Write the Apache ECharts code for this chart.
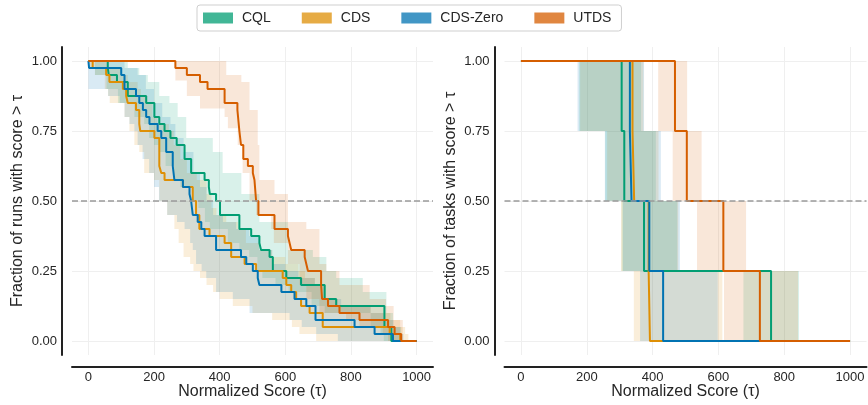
<!DOCTYPE html>
<html><head><meta charset="utf-8">
<script src="https://cdn.jsdelivr.net/npm/echarts@6/dist/echarts.min.js"></script>
<style>html,body{margin:0;padding:0;background:#fff}#c{width:868px;height:405px}</style>
</head><body><div id="c"></div>
<script>
// ---------- categories / ticks ----------
const methods = ['CQL', 'CDS', 'CDS-Zero', 'UTDS'];
const xTicks = [0, 200, 400, 600, 800, 1000];
const yTicks = [0, 0.25, 0.5, 0.75, 1];
const xTitle = 'Normalized Score (τ)';
const yTitleRuns = 'Fraction of runs with score > τ';
const yTitleTasks = 'Fraction of tasks with score > τ';

// ---------- left panel: runs (step points [score, fraction]) ----------
const runsCQL = [[0,1],[59,0.975],[62,0.95],[87,0.925],[120,0.875],[176,0.85],[201,0.8],[216,0.775],[232,0.75],[250,0.725],[269,0.7],[293,0.65],[313,0.6],[354,0.575],[367,0.55],[370,0.525],[389,0.5],[401,0.45],[460,0.4],[496,0.375],[521,0.35],[526,0.325],[552,0.3],[562,0.25],[603,0.225],[648,0.2],[720,0.15],[755,0.125],[902,0.05],[923,0],[1000,0]];
const runsCQLHigh = [[0,1],[120,0.975],[155,0.95],[181,0.925],[216,0.875],[247,0.85],[272,0.8],[298,0.725],[379,0.675],[409,0.6],[466,0.525],[521,0.425],[608,0.325],[684,0.3],[725,0.25],[755,0.225],[836,0.175],[908,0.1],[928,0.05],[953,0]];
const runsCQLLow = [[0,1],[20,0.95],[55,0.9],[90,0.85],[140,0.8],[170,0.775],[185,0.725],[200,0.7],[215,0.675],[235,0.625],[260,0.575],[280,0.55],[320,0.5],[335,0.475],[355,0.425],[370,0.4],[425,0.35],[460,0.325],[490,0.3],[515,0.25],[530,0.225],[570,0.2],[610,0.175],[680,0.125],[720,0.1],[860,0.05],[890,0.025],[900,0]];

const runsCDS = [[0,1],[13,0.975],[54,0.95],[64,0.925],[105,0.9],[115,0.875],[120,0.85],[145,0.825],[155,0.775],[158,0.75],[201,0.725],[216,0.625],[222,0.6],[232,0.575],[288,0.55],[318,0.5],[328,0.45],[338,0.4],[369,0.375],[415,0.35],[435,0.3],[476,0.275],[511,0.25],[592,0.225],[603,0.2],[618,0.175],[633,0.15],[648,0.125],[674,0.1],[714,0.05],[918,0.025],[950,0],[1000,0]];
const runsCDSHigh = [[0,1],[60,0.975],[100,0.95],[120,0.925],[150,0.9],[160,0.875],[180,0.85],[195,0.8],[210,0.775],[245,0.75],[260,0.7],[280,0.65],[300,0.6],[330,0.575],[360,0.525],[375,0.475],[390,0.45],[420,0.425],[455,0.4],[480,0.35],[520,0.325],[560,0.3],[600,0.275],[640,0.25],[660,0.225],[690,0.2],[720,0.15],[760,0.125],[860,0.1],[920,0.075],[950,0.05],[965,0.025],[975,0]];
const runsCDSLow = [[0,0.975],[20,0.95],[50,0.9],[60,0.875],[65,0.85],[110,0.8],[125,0.75],[140,0.7],[155,0.675],[170,0.6],[200,0.575],[216,0.5],[240,0.45],[262,0.4],[275,0.35],[290,0.3],[310,0.275],[320,0.25],[340,0.225],[360,0.2],[380,0.175],[400,0.15],[440,0.125],[500,0.1],[560,0.075],[620,0.05],[643,0.025],[694,0]];

const runsZero = [[0,1],[2,0.975],[100,0.95],[110,0.9],[145,0.875],[155,0.85],[166,0.825],[176,0.8],[186,0.775],[211,0.75],[222,0.725],[237,0.675],[257,0.625],[262,0.575],[288,0.55],[308,0.525],[313,0.5],[318,0.45],[333,0.425],[344,0.4],[354,0.375],[389,0.325],[465,0.3],[481,0.275],[501,0.25],[516,0.225],[521,0.2],[588,0.175],[628,0.15],[664,0.125],[692,0.075],[811,0.05],[872,0.025],[928,0],[1000,0]];
const runsZeroHigh = [[0,1],[110,0.975],[150,0.95],[175,0.9],[200,0.85],[225,0.8],[250,0.775],[265,0.725],[290,0.675],[320,0.6],[340,0.55],[360,0.5],[380,0.45],[410,0.425],[450,0.4],[490,0.375],[520,0.325],[560,0.275],[600,0.25],[640,0.225],[690,0.2],[720,0.15],[770,0.125],[860,0.1],[900,0.075],[930,0.05],[950,0.025],[960,0]];
const runsZeroLow = [[0,0.9],[60,0.875],[95,0.85],[110,0.8],[125,0.775],[140,0.75],[150,0.7],[165,0.65],[185,0.6],[200,0.55],[215,0.5],[240,0.45],[270,0.425],[293,0.4],[310,0.35],[318,0.325],[328,0.275],[345,0.25],[359,0.225],[389,0.175],[440,0.15],[491,0.1],[613,0.075],[650,0.05],[694,0.025],[760,0]];

const runsUTDS = [[0,1],[265,0.975],[300,0.95],[340,0.925],[363,0.9],[415,0.85],[454,0.825],[460,0.75],[465,0.7],[472,0.65],[486,0.625],[501,0.6],[506,0.575],[511,0.5],[518,0.45],[567,0.4],[608,0.375],[613,0.35],[618,0.325],[659,0.3],[664,0.275],[669,0.25],[709,0.2],[712,0.15],[730,0.125],[765,0.1],[826,0.075],[913,0.05],[933,0.025],[953,0],[1000,0]];
const runsUTDSHigh = [[0,1],[420,0.95],[466,0.925],[491,0.825],[516,0.7],[521,0.575],[567,0.525],[608,0.425],[664,0.4],[704,0.275],[725,0.25],[765,0.2],[857,0.15],[907,0.125],[930,0.075],[958,0]];
const runsUTDSLow = [[0,1],[265,0.93],[300,0.875],[340,0.83],[415,0.8],[425,0.76],[455,0.7],[470,0.6],[491,0.5],[511,0.45],[557,0.4],[565,0.35],[608,0.275],[643,0.2],[664,0.15],[704,0.1],[785,0.075],[826,0.05],[897,0.025],[913,0]];

// ---------- right panel: tasks ----------
const tasksCQL = [[0,1],[306,0.75],[314,0.5],[374,0.25],[760,0],[1000,0]];
const tasksCQLHigh = [[0,1],[365,0.75],[410,0.5],[475,0.25],[845,0]];
const tasksCQLLow = [[0,1],[177,0.75],[256,0.5],[306,0.25],[676,0]];
const tasksCDS = [[0,1],[339,0.75],[344,0.5],[388,0.25],[392,0],[1000,0]];
const tasksCDSHigh = [[0,1],[372,0.75],[418,0.5],[478,0.25],[612,0]];
const tasksCDSLow = [[0,1],[180,0.75],[262,0.5],[304,0.25],[343,0]];
const tasksZero = [[0,1],[331,0.75],[336,0.5],[390,0.25],[432,0],[1000,0]];
const tasksZeroHigh = [[0,1],[374,0.75],[425,0.5],[483,0.25],[598,0]];
const tasksZeroLow = [[0,1],[172,0.75],[255,0.5],[310,0.25],[362,0]];
const tasksUTDS = [[0,1],[468,0.75],[504,0.5],[615,0.25],[726,0],[1000,0]];
const tasksUTDSHigh = [[0,1],[505,0.75],[549,0.5],[684,0.25],[842,0]];
const tasksUTDSLow = [[0,1],[417,0.75],[461,0.5],[535,0.25],[617,0]];

// ---------- styling ----------
const colors = {'CQL':'2,158,115','CDS':'222,143,5','CDS-Zero':'1,115,178','UTDS':'213,94,0'};
const FONT = 'Liberation Sans, Arial, sans-serif';
const TXT = '#262626';

const panels = [
  {lines:[runsCQL,runsCDS,runsZero,runsUTDS], hi:[runsCQLHigh,runsCDSHigh,runsZeroHigh,runsUTDSHigh], lo:[runsCQLLow,runsCDSLow,runsZeroLow,runsUTDSLow]},
  {lines:[tasksCQL,tasksCDS,tasksZero,tasksUTDS], hi:[tasksCQLHigh,tasksCDSHigh,tasksZeroHigh,tasksUTDSHigh], lo:[tasksCQLLow,tasksCDSLow,tasksZeroLow,tasksUTDSLow]}
];

function stepPts(arr, xEnd) {
  const pts = [];
  for (let i = 0; i < arr.length; i++) {
    if (i > 0) pts.push([arr[i][0], arr[i-1][1]]);
    pts.push(arr[i]);
  }
  pts.push([xEnd, arr[arr.length-1][1]]);
  return pts;
}

const series = [];
panels.forEach((p, gi) => {
  methods.forEach((m, k) => {
    const poly = stepPts(p.hi[k], 1000).concat(stepPts(p.lo[k], 1000).reverse());
    series.push({
      type: 'custom', name: m + ' CI', xAxisIndex: gi, yAxisIndex: gi, silent: true, z: 1,
      data: [[0, 0]],
      renderItem: (params, api) => ({
        type: 'polygon',
        shape: {points: poly.map(pt => api.coord(pt))},
        style: {fill: 'rgba(' + colors[m] + ',0.15)', stroke: null}
      })
    });
  });
});
panels.forEach((p, gi) => {
  methods.forEach((m, k) => {
    const s = {
      type: 'line', name: m, xAxisIndex: gi, yAxisIndex: gi, step: 'end',
      data: p.lines[k], showSymbol: false, silent: true, z: 3,
      color: 'rgb(' + colors[m] + ')',
      lineStyle: {width: 2, color: 'rgb(' + colors[m] + ')'}
    };
    if (k === 3) {
      s.markLine = {silent: true, symbol: 'none', label: {show: false},
        lineStyle: {type: [6, 3], color: '#9a9a9a', width: 1.5},
        data: [{yAxis: 0.5}]};
    }
    series.push(s);
  });
});

function xAxis(gi) {
  return {
    type: 'value', gridIndex: gi, min: -50, max: 1050, offset: 12,
    name: xTitle, nameLocation: 'middle', nameGap: 17, nameMoveOverlap: false,
    nameTextStyle: {fontFamily: FONT, fontSize: 16, color: TXT},
    axisLine: {show: true, onZero: false, lineStyle: {color: '#222', width: 2}},
    axisTick: {show: false, customValues: xTicks},
    axisLabel: {customValues: xTicks, fontFamily: FONT, fontSize: 13, color: TXT, margin: 4,
      formatter: v => String(v)},
    splitLine: {show: true, lineStyle: {color: '#efefef', width: 1}}
  };
}
function yAxis(gi, title) {
  return {
    type: 'value', gridIndex: gi, min: -0.05, max: 1.05, offset: 10,
    name: title, nameLocation: 'middle', nameGap: 36, nameRotate: 90, nameMoveOverlap: false,
    nameTextStyle: {fontFamily: FONT, fontSize: 16, color: TXT},
    axisLine: {show: true, onZero: false, lineStyle: {color: '#222', width: 2}},
    axisTick: {show: false, customValues: yTicks},
    axisLabel: {customValues: yTicks, fontFamily: FONT, fontSize: 13, color: TXT, margin: 5,
      formatter: v => v.toFixed(2)},
    splitLine: {show: true, lineStyle: {color: '#efefef', width: 1}}
  };
}

const chart = echarts.init(document.getElementById('c'), null, {renderer: 'canvas'});
chart.setOption({
  animation: false,
  backgroundColor: '#fff',
  legend: {
    top: 5, left: 197, padding: [6, 10, 6, 6],
    borderColor: '#cfcfcf', borderWidth: 1, borderRadius: 3,
    itemWidth: 30, itemHeight: 11, itemGap: 31, icon: 'rect',
    textStyle: {fontFamily: FONT, fontSize: 14, color: TXT, padding: [0, 0, 0, 4]},
    data: methods.map(m => ({name: m, icon: 'rect', itemStyle: {color: 'rgba(' + colors[m] + ',0.75)'}}))
  },
  grid: [
    {left: 72, top: 47, width: 361, height: 308, outerBoundsMode: 'none', containLabel: false},
    {left: 504.5, top: 47, width: 362, height: 308, outerBoundsMode: 'none', containLabel: false}
  ],
  xAxis: [xAxis(0), xAxis(1)],
  yAxis: [yAxis(0, yTitleRuns), yAxis(1, yTitleTasks)],
  series: series
});
</script></body></html>
